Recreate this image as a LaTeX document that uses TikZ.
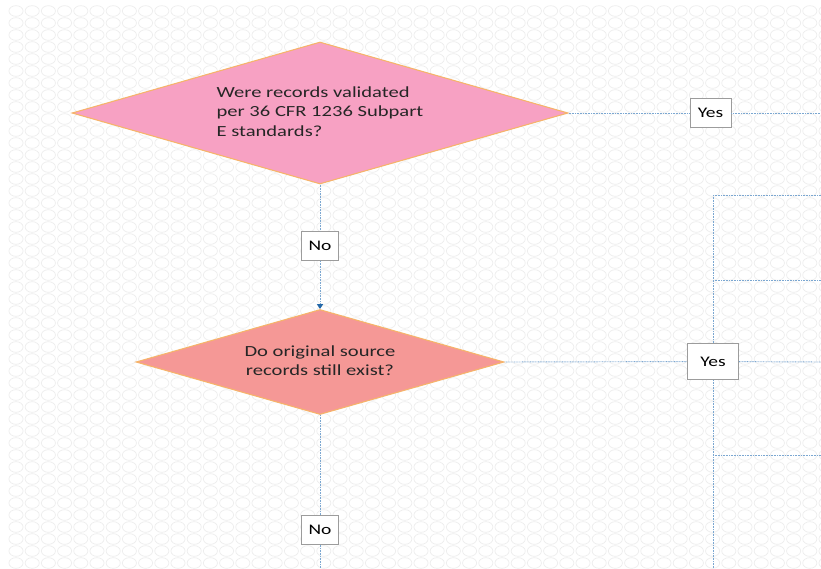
\documentclass[tikz,border=0pt]{standalone}
\usepackage{fontspec}
\setmainfont{Carlito}
\usepackage{graphicx}
\usetikzlibrary{shapes.geometric,arrows.meta}
\definecolor{pinkfill}{HTML}{F7A1C3}
\definecolor{salmonfill}{HTML}{F59896}
\definecolor{edgeorange}{HTML}{F6B46A}
\definecolor{flowblue}{HTML}{7BA7D1}
\definecolor{tipblue}{HTML}{2468A8}
\definecolor{ringgray}{HTML}{EDEDED}
\definecolor{boxgray}{HTML}{9C9C9C}
\definecolor{inktext}{HTML}{262626}
\newcommand{\wtext}[1]{\scalebox{1.33}[1]{#1}}
\tikzset{
  decision/.style={diamond, draw=edgeorange, line width=0.8pt, inner sep=0pt, aspect=3.5, text=inktext, font=\fontsize{11.6}{14.5}\selectfont},
  answer/.style={draw=boxgray, fill=white, line width=0.6pt, inner sep=0pt, font=\fontsize{11}{13}\selectfont, text=black},
  flow/.style={draw=flowblue, line width=0.7pt, dash pattern=on 0.6pt off 0.6pt},
  ring/.style={draw=ringgray, line width=0.5pt}
}
\begin{document}
\begin{tikzpicture}[x=0.75pt,y=-0.75pt]
\useasboundingbox[fill=white] (0,0) rectangle (821,568);
\clip (0,0) rectangle (821,568);
% background rings
\foreach \i in {0,...,50}
  \foreach \j in {0,...,47}
    \draw[ring] (16+16.2*\i,11+12*\j) ellipse [x radius=5.3pt, y radius=4pt];
% decisions
\node[decision, fill=pinkfill, minimum width=372pt, minimum height=106.5pt] (validated) at (320,113)
  {\wtext{\begin{tabular}{@{}l@{}}Were records validated\\per 36 CFR 1236 Subpart\\E standards?\end{tabular}}\hspace{7pt}};
\node[decision, fill=salmonfill, minimum width=276pt, minimum height=78.75pt] (exist) at (320,362)
  {\wtext{\begin{tabular}{@{}c@{}}Do original source\\records still exist?\end{tabular}}\hspace{5pt}};
% answers
\node[answer, minimum width=30.75pt, minimum height=22pt] (yesA) at (710.5,113) {\wtext{Yes}};
\node[answer, minimum width=27.75pt, minimum height=22pt] (noA) at (320,246) {\wtext{No}};
\node[answer, minimum width=38.5pt, minimum height=27.5pt] (yesB) at (713,361.5) {\wtext{Yes}};
\node[answer, minimum width=27.75pt, minimum height=21.5pt] (noB) at (320,530) {\wtext{No}};
% loose ends
\coordinate (edgeA) at (821,113);
\coordinate (edgeB) at (821,362);
\coordinate (edgeC) at (320,568);
\coordinate (trunkTop) at (713,195);
\coordinate (trunkBot) at (713,568);
\coordinate (tapB) at (713,280);
\coordinate (tapC) at (713,455);
\coordinate (edgeT) at (821,195);
\coordinate (edgeTB) at (821,280);
\coordinate (edgeTC) at (821,455);
% connectors
\draw[flow] (validated.east) -- (yesA) -- (edgeA);
\draw[flow] (validated.south) -- (noA);
\draw[flow, -{Triangle[width=4.5pt,length=3.6pt,color=tipblue,fill=tipblue]}] (noA) -- (exist.north);
\draw[flow] (exist.east) -- (yesB) -- (edgeB);
\draw[flow] (exist.south) -- (noB) -- (edgeC);
\draw[flow] (trunkTop) -- (yesB) -- (trunkBot);
\draw[flow] (trunkTop) -- (edgeT);
\draw[flow] (tapB) -- (edgeTB);
\draw[flow] (tapC) -- (edgeTC);
\end{tikzpicture}
\end{document}
